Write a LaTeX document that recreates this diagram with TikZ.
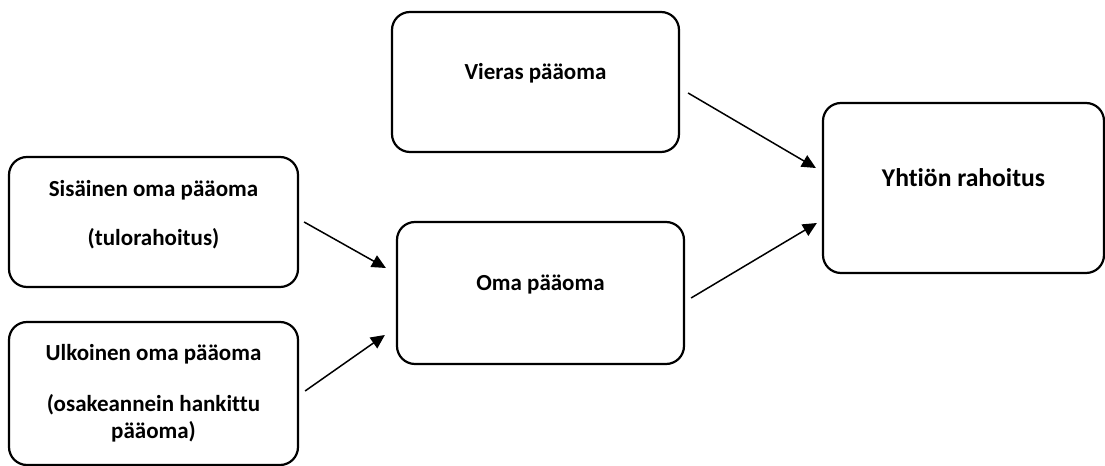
\documentclass[tikz,border=0pt]{standalone}
\usepackage{fontspec}
\setmainfont{Carlito}[Ligatures=NoCommon]
\usetikzlibrary{arrows.meta}
\begin{document}
\begin{tikzpicture}[x=0.5pt,y=0.5pt]
        \tikzset{>={Triangle[length=7pt,width=6.5pt]}}
        \tikzset{box/.style={draw,line width=1.1pt,rounded corners=9pt,inner sep=0pt,align=center,
                font=\fontsize{11.5}{13.5}\selectfont\bfseries}}
        \tikzset{oneline/.style={text height=7.5pt,text depth=9.5pt}}
        \useasboundingbox (0,0) rectangle (1105,466);
        \node[box,text depth=9pt,minimum width=144.5pt,minimum height=65pt] (sis) at (153.5,244) {Sisäinen oma pääoma\\[11pt] (tulorahoitus)};
        \node[box,minimum width=144.5pt,minimum height=71.5pt] (ulk) at (153.5,72.5) {Ulkoinen oma pääoma\\[12pt] (osakeannein hankittu\\ pääoma)};
        \node[box,oneline,minimum width=143.5pt,minimum height=70pt] (vieras) at (535.5,384) {Vieras pääoma};
        \node[box,oneline,minimum width=143.5pt,minimum height=71pt] (oma) at (540.5,173) {Oma pääoma};
        \node[box,text height=8.5pt,text depth=9.8pt,font=\fontsize{12.8}{15}\selectfont\bfseries,
                minimum width=140.5pt,minimum height=85pt] (yht) at (963.5,278) {Yhtiön rahoitus};
        \draw[->,line width=0.75pt] ([shift={(5,0)}]sis.east) -- ([shift={(-10,25)}]oma.west);
        \draw[->,line width=0.75pt] ([shift={(6,2.5)}]ulk.east) -- ([shift={(-11,-42)}]oma.west);
        \draw[->,line width=0.75pt] ([shift={(8,-11)}]vieras.east) -- ([shift={(-6,20)}]yht.west);
        \draw[->,line width=0.75pt] ([shift={(6,-5)}]oma.east) -- ([shift={(-5,-35)}]yht.west);
\end{tikzpicture}
\end{document}
